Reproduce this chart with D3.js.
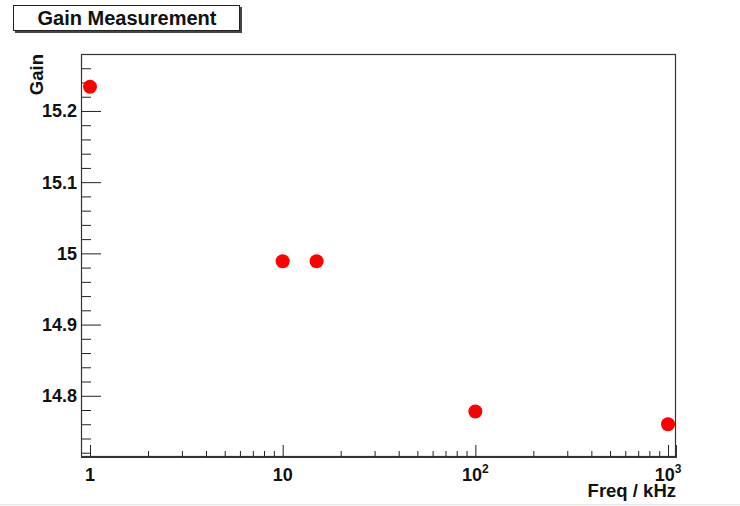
<!DOCTYPE html>
<html>
<head>
<meta charset="utf-8">
<script src="https://cdn.jsdelivr.net/npm/d3@7"></script>
<style>
  body { margin: 0; background: #fff; }
  text { font-family: "Liberation Sans", Arial, sans-serif; font-weight: bold; fill: #111; }
</style>
</head>
<body>
<svg id="chart" width="740" height="506"></svg>
<script>
// ***** Data ***** //
var freqs = [1, 10, 15, 100, 1000];          // kHz
var gains = [15.234, 14.989, 14.989, 14.778, 14.760];
var yTicks = [14.8, 14.9, 15, 15.1, 15.2];
var yTickLabels = ['14.8', '14.9', '15', '15.1', '15.2'];
var xTicks = [1, 10, 100, 1000];
var xTickBase = ['1', '10', '10', '10'];
var xTickSup = ['', '', '2', '3'];

var svg = d3.select('#chart');

// frame
var fLeft = 81, fTop = 54, fRight = 676, fBottom = 457;

var x = d3.scaleLog().domain([0.898, 1100]).range([fLeft, fRight]);
var y = d3.scaleLinear().domain([14.714, 15.28]).range([fBottom, fTop]);

// minor ticks
var xMinor = [];
[1, 10, 100].forEach(function (d) {
    for (var k = 2; k <= 9; k++) xMinor.push(d * k);
});
var yMinor = [];
for (var v = 14.72; v < 15.28; v += 0.02) {
    var r = Math.round(v * 100) / 100;
    if (Math.abs(r * 10 - Math.round(r * 10)) > 1e-6) yMinor.push(r);
}

// ***** Title box ***** //
svg.append('rect')
    .attr('x', 15).attr('y', 7).attr('width', 227).attr('height', 26)
    .attr('fill', '#444');
svg.append('rect')
    .attr('x', 13.5).attr('y', 5.5).attr('width', 226).attr('height', 25)
    .attr('fill', '#fff').attr('stroke', '#222').attr('stroke-width', 1);
svg.append('text')
    .attr('x', 127).attr('y', 25)
    .attr('text-anchor', 'middle')
    .style('font-size', '20px')
    .text('Gain Measurement');

// ***** Frame ***** //
svg.append('rect')
    .attr('x', fLeft + 0.5).attr('y', fTop + 0.5)
    .attr('width', fRight - fLeft - 1).attr('height', fBottom - fTop - 1)
    .attr('fill', 'none').attr('stroke', '#333').attr('stroke-width', 1.2);

// ***** Axes ***** //
var gx = svg.append('g').attr('transform', 'translate(0,' + fBottom + ')');
gx.call(d3.axisBottom(x).tickValues(xMinor).tickSize(-6).tickFormat(''));
gx.append('g').call(d3.axisBottom(x).tickValues(xTicks).tickSize(-12).tickFormat(''));
gx.selectAll('.domain').attr('stroke', '#333');
gx.selectAll('line').attr('stroke', '#222');

var gy = svg.append('g').attr('transform', 'translate(' + fLeft + ',0)');
gy.call(d3.axisLeft(y).tickValues(yMinor).tickSize(-10).tickFormat(''));
gy.append('g').call(d3.axisLeft(y).tickValues(yTicks).tickSize(-20).tickFormat(''));
gy.selectAll('.domain').attr('stroke', '#333');
gy.selectAll('line').attr('stroke', '#222');

// tick labels
svg.append('g').selectAll('text')
    .data(yTicks)
    .enter()
    .append('text')
    .attr('x', fLeft - 4)
    .attr('y', d => y(d))
    .attr('dy', '0.36em')
    .attr('text-anchor', 'end')
    .style('font-size', '18px')
    .text((d, i) => yTickLabels[i]);

var xl = svg.append('g').selectAll('text')
    .data(xTicks)
    .enter()
    .append('text')
    .attr('x', d => x(d))
    .attr('y', 481)
    .attr('text-anchor', 'middle')
    .style('font-size', '18px');
xl.append('tspan').text((d, i) => xTickBase[i]);
xl.append('tspan')
    .attr('dy', '-8')
    .style('font-size', '12px')
    .text((d, i) => xTickSup[i]);

// axis titles
svg.append('text')
    .attr('x', fRight)
    .attr('y', 497)
    .attr('text-anchor', 'end')
    .style('font-size', '18.5px')
    .text('Freq / kHz');

svg.append('text')
    .attr('transform', 'translate(43,' + fTop + ') rotate(-90)')
    .attr('text-anchor', 'end')
    .style('font-size', '18.5px')
    .text('Gain');

// ***** Points ***** //
svg.append('g').selectAll('circle')
    .data(freqs)
    .enter()
    .append('circle')
    .attr('cx', d => x(d))
    .attr('cy', (d, i) => y(gains[i]))
    .attr('r', 7)
    .attr('fill', '#ff0000');

// bottom edge line
svg.append('line')
    .attr('x1', 0).attr('x2', 740).attr('y1', 504.5).attr('y2', 504.5)
    .attr('stroke', '#e6e6e6');
</script>
</body>
</html>
